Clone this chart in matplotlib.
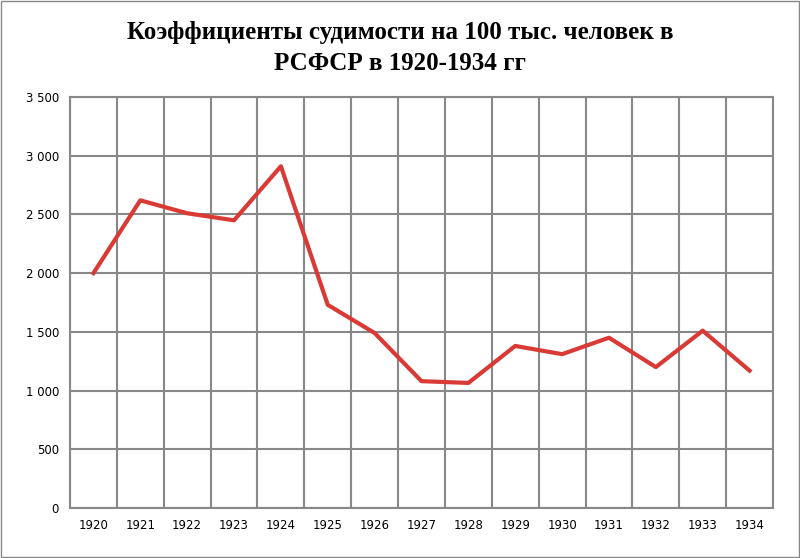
import matplotlib.pyplot as plt
import numpy as np

years = ['1920', '1921', '1922', '1923', '1924', '1925', '1926', '1927',
         '1928', '1929', '1930', '1931', '1932', '1933', '1934']
rates = [2000, 2620, 2510, 2450, 2910, 1730, 1490, 1080,
         1065, 1380, 1310, 1450, 1200, 1510, 1170]

fig = plt.figure(figsize=(8, 5.58), dpi=100)
ax = fig.add_axes([70 / 800, 1 - 508 / 558, 703 / 800, 411 / 558])

x = np.arange(len(years))
ax.plot(x, rates, color='#d93a35', linewidth=3, zorder=3)

ax.set_xlim(-0.5, len(years) - 0.5)
ax.set_ylim(0, 3500)
ax.set_yticks(range(0, 3501, 500))
ax.set_yticklabels([f'{v:,}'.replace(',', ' ') for v in range(0, 3501, 500)])
ax.set_xticks(x)
ax.set_xticklabels(years)
ax.set_xticks(np.arange(-0.5, len(years)), minor=True)
ax.grid(True, which='minor', axis='x', color='#888888', linewidth=1.5)
ax.grid(True, which='major', axis='y', color='#888888', linewidth=1.5)
ax.tick_params(which='both', length=0, labelsize=8.5, pad=8)
for s in ax.spines.values():
    s.set_color('#888888')
    s.set_linewidth(1.5)

fig.text(0.5, 1 - 48 / 558, 'Коэффициенты судимости на 100 тыс. человек в\nРСФСР в 1920-1934 гг',
         ha='center', va='center', fontsize=18, fontweight='bold',
         family='Liberation Serif', linespacing=1.45)

fig.patches.append(plt.Rectangle((0.001, 0.001), 0.998, 0.998, transform=fig.transFigure,
                                 fill=False, edgecolor='#888888', linewidth=1))
fig.savefig('out.png', dpi=100)
